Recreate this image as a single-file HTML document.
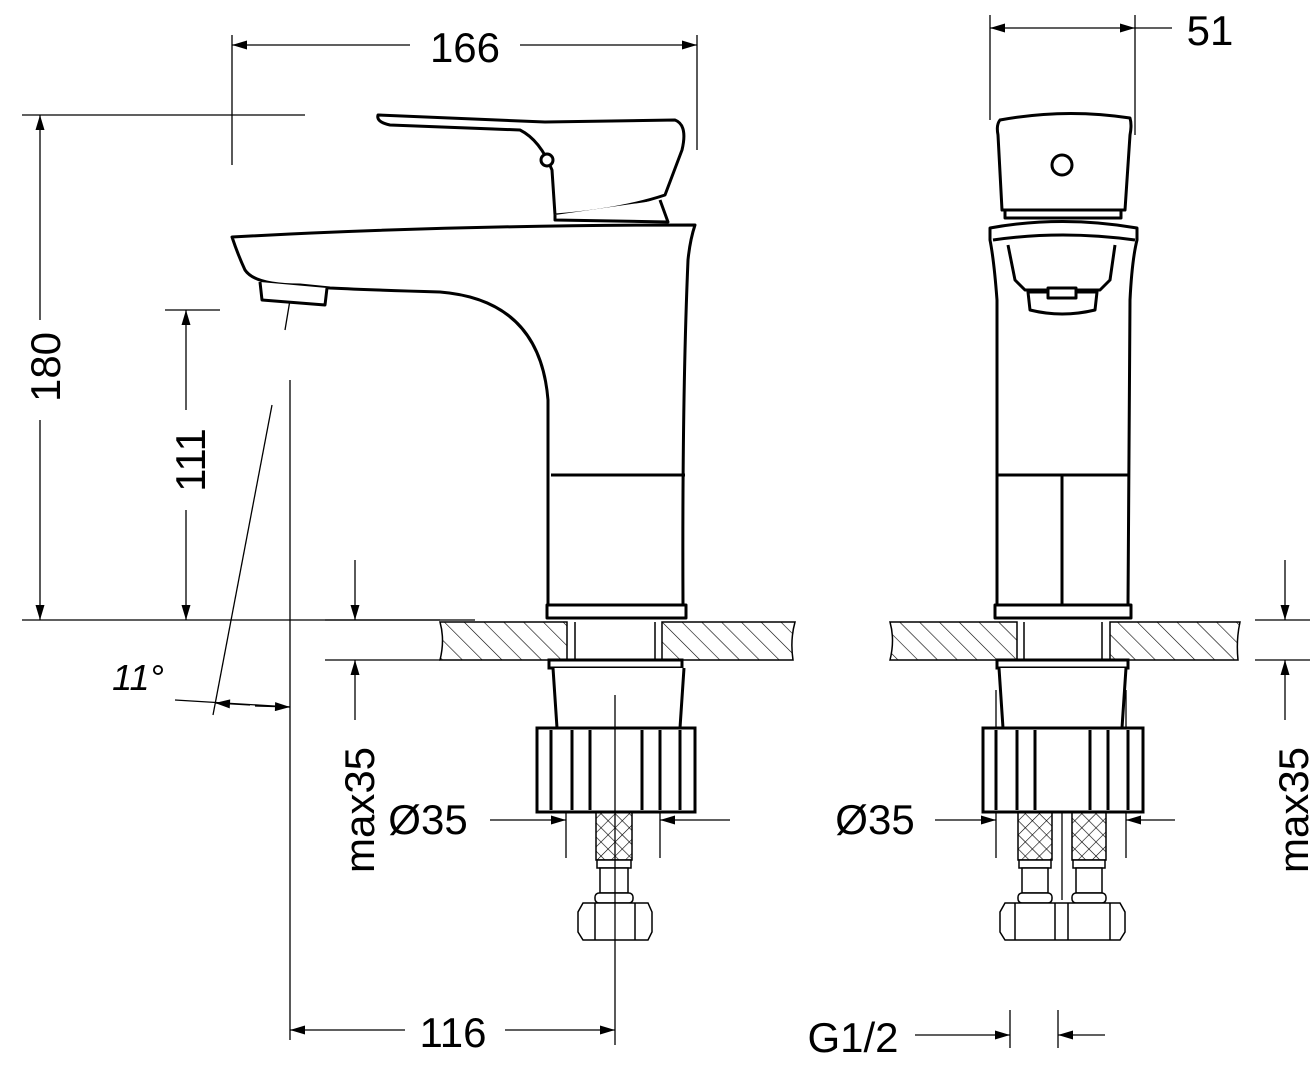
<!DOCTYPE html>
<html><head><meta charset="utf-8"><style>html,body{margin:0;padding:0;background:#fff}svg{display:block}</style></head>
<body>
<svg width="1314" height="1080" viewBox="0 0 1314 1080" xmlns="http://www.w3.org/2000/svg" font-family="Liberation Sans, sans-serif">
<defs>
<pattern id="h" width="14" height="14" patternUnits="userSpaceOnUse" patternTransform="rotate(-45)"><line x1="0" y1="0" x2="0" y2="14" stroke="#000" stroke-width="1.2"/></pattern>
<pattern id="x" width="10" height="10" patternUnits="userSpaceOnUse" patternTransform="rotate(45)"><path d="M0 0V10M0 0H10" stroke="#000" stroke-width="1.2"/></pattern>
<marker id="a" viewBox="0 0 10 6" refX="10" refY="3" markerWidth="28" markerHeight="9" markerUnits="userSpaceOnUse" orient="auto"><path d="M0 0L10 3L0 6Z"/></marker>
</defs>
<g stroke="#000" stroke-width="1.3" fill="none">
<line x1="232" y1="35" x2="232" y2="165"/><line x1="697" y1="35" x2="697" y2="150"/>
<line x1="410" y1="45" x2="232" y2="45" marker-end="url(#a)"/><line x1="520" y1="45" x2="697" y2="45" marker-end="url(#a)"/>
<line x1="22" y1="115" x2="305" y2="115"/><line x1="22" y1="620" x2="475" y2="620"/>
<line x1="40" y1="320" x2="40" y2="115" marker-end="url(#a)"/><line x1="40" y1="420" x2="40" y2="620" marker-end="url(#a)"/>
<line x1="165" y1="310" x2="220" y2="310"/>
<line x1="186" y1="410" x2="186" y2="310" marker-end="url(#a)"/><line x1="186" y1="510" x2="186" y2="620" marker-end="url(#a)"/>
<line x1="290" y1="380" x2="290" y2="1040"/>
<line x1="272" y1="405" x2="213" y2="715"/><line x1="290" y1="300" x2="285" y2="330"/>
<line x1="175" y1="700" x2="290" y2="707"/>
<line x1="250" y1="705" x2="215" y2="703" marker-end="url(#a)"/><line x1="255" y1="706" x2="290" y2="707" marker-end="url(#a)"/>
<line x1="405" y1="1030" x2="290" y2="1030" marker-end="url(#a)"/><line x1="505" y1="1030" x2="615" y2="1030" marker-end="url(#a)"/>
<line x1="325" y1="660" x2="440" y2="660"/><line x1="325" y1="620" x2="440" y2="620"/>
<line x1="355" y1="560" x2="355" y2="620" marker-end="url(#a)"/><line x1="355" y1="720" x2="355" y2="660" marker-end="url(#a)"/>
<line x1="490" y1="820" x2="566" y2="820" marker-end="url(#a)"/><line x1="730" y1="820" x2="660" y2="820" marker-end="url(#a)"/>
<line x1="566" y1="690" x2="566" y2="858"/><line x1="660" y1="690" x2="660" y2="858"/>
</g>
<g stroke="#000" stroke-width="3" fill="#fff" stroke-linejoin="round">
<path d="M378 115 L545 122 L675 120 Q688 125 682 150 L665 195 Q620 210 555 215 L552 170 Q540 140 520 130 L390 125 Q376 122 378 115Z"/>
<path d="M555 215 L555 220 L668 222 L660 200"/>
<path d="M232 237 Q450 225 695 225 Q690 240 688 260 Q682 400 683 605 L548 605 L548 400 Q540 300 440 292 Q370 290 330 288 L300 285 Q255 285 245 270 Q238 255 232 237Z"/>
<path d="M260 282 L262 300 L325 305 L327 288"/>
<line x1="551" y1="475" x2="685" y2="475"/>
<rect x="547" y="605" width="139" height="13"/>
</g>
<circle cx="547" cy="160" r="6" stroke="#000" stroke-width="3" fill="#fff"/>
<g stroke="#000" stroke-width="1.5">
<path d="M440 622 H567 V660 H440 Q445 640 440 622Z" fill="url(#h)"/>
<path d="M662 622 H795 Q790 640 793 660 H662Z" fill="url(#h)"/>
<line x1="575" y1="622" x2="575" y2="660"/><line x1="655" y1="622" x2="655" y2="660"/>
</g>
<g stroke="#000" stroke-width="3" fill="#fff">
<rect x="549" y="660" width="133" height="8"/>
<path d="M553 668 L557 728 L680 728 L684 668"/>
<rect x="537" y="728" width="158" height="84"/>
<path d="M551 730V810M572 730V810M590 730V810M642 730V810M660 730V810M680 730V810" fill="none"/>
</g>
<rect x="596" y="812" width="36" height="48" fill="url(#x)" stroke="#000" stroke-width="1.5"/>
<g stroke="#000" stroke-width="1.5" fill="#fff">
<rect x="597" y="860" width="34" height="8"/><rect x="600" y="868" width="28" height="25"/>
<rect x="595" y="893" width="38" height="10" rx="4"/>
<path d="M583 903 H648 L652 912 V932 L648 940 H583 L578 932 V912Z"/>
<line x1="595" y1="903" x2="595" y2="940"/><line x1="635" y1="903" x2="635" y2="940"/>
</g>
<line x1="615" y1="695" x2="615" y2="1045" stroke="#000" stroke-width="1.3"/>

<g stroke="#000" stroke-width="1.3" fill="none">
<line x1="990" y1="15" x2="990" y2="120"/><line x1="1135" y1="15" x2="1135" y2="135"/>
<line x1="1135" y1="28" x2="1172" y2="28"/>
<line x1="1060" y1="28" x2="990" y2="28" marker-end="url(#a)"/><line x1="1060" y1="28" x2="1135" y2="28" marker-end="url(#a)"/>
<line x1="1255" y1="620" x2="1310" y2="620"/><line x1="1255" y1="660" x2="1310" y2="660"/>
<line x1="1285" y1="560" x2="1285" y2="620" marker-end="url(#a)"/><line x1="1285" y1="720" x2="1285" y2="660" marker-end="url(#a)"/>
<line x1="935" y1="820" x2="996" y2="820" marker-end="url(#a)"/><line x1="1175" y1="820" x2="1126" y2="820" marker-end="url(#a)"/>
<line x1="996" y1="690" x2="996" y2="858"/><line x1="1126" y1="690" x2="1126" y2="858"/>
<line x1="915" y1="1035" x2="1010" y2="1035" marker-end="url(#a)"/><line x1="1105" y1="1035" x2="1058" y2="1035" marker-end="url(#a)"/>
<line x1="1010" y1="1010" x2="1010" y2="1048"/><line x1="1058" y1="1010" x2="1058" y2="1048"/>
<line x1="1062" y1="695" x2="1062" y2="900"/>
</g>
<g stroke="#000" stroke-width="3" fill="#fff" stroke-linejoin="round">
<path d="M1000 120 Q1065 108 1130 118 Q1132 125 1130 135 L1125 210 L1002 210 L998 135 Q996 125 1000 120Z"/>
<rect x="1005" y="210" width="116" height="8"/>
<path d="M990 228 Q1062 215 1137 228 L1137 240 Q1132 260 1130 300 L1128 605 L997 605 L997 300 Q994 260 990 240Z"/>
<path d="M993 240 Q1062 230 1135 240" fill="none"/>
<path d="M1008 245 L1015 280 L1025 290 L1100 290 L1110 280 L1115 245" fill="none"/>
<path d="M1028 292 L1030 310 Q1062 318 1095 310 L1097 292Z"/>
<rect x="1048" y="288" width="28" height="10"/>
<line x1="998" y1="475" x2="1128" y2="475"/><line x1="1062" y1="475" x2="1062" y2="605"/>
<rect x="995" y="605" width="136" height="13"/>
</g>
<circle cx="1062" cy="165" r="10" stroke="#000" stroke-width="3" fill="#fff"/>
<g stroke="#000" stroke-width="1.5">
<path d="M890 622 H1017 V660 H890 Q895 640 890 622Z" fill="url(#h)"/>
<path d="M1110 622 H1240 Q1236 640 1238 660 H1110Z" fill="url(#h)"/>
<line x1="1024" y1="622" x2="1024" y2="660"/><line x1="1102" y1="622" x2="1102" y2="660"/>
</g>
<g stroke="#000" stroke-width="3" fill="#fff">
<rect x="997" y="660" width="131" height="8"/>
<path d="M999 668 L1003 728 L1122 728 L1126 668"/>
<rect x="983" y="728" width="160" height="84"/>
<path d="M996 730V810M1017 730V810M1035 730V810M1090 730V810M1108 730V810M1128 730V810" fill="none"/>
</g>
<g stroke="#000" stroke-width="1.5">
<rect x="1018" y="812" width="34" height="48" fill="url(#x)"/>
<rect x="1072" y="812" width="34" height="48" fill="url(#x)"/>
</g>
<g stroke="#000" stroke-width="1.5" fill="#fff">
<rect x="1019" y="860" width="32" height="8"/><rect x="1022" y="868" width="26" height="25"/><rect x="1018" y="893" width="34" height="10" rx="4"/>
<rect x="1073" y="860" width="32" height="8"/><rect x="1076" y="868" width="26" height="25"/><rect x="1072" y="893" width="34" height="10" rx="4"/>
<path d="M1005 903 H1120 L1125 912 V932 L1120 940 H1005 L1000 932 V912Z"/>
<path d="M1015 903V940M1055 903V940M1068 903V940M1110 903V940" fill="none"/>
</g>

<g font-size="42" fill="#000">
<text x="465" y="62" text-anchor="middle">166</text>
<text x="1210" y="45" text-anchor="middle">51</text>
<text x="453" y="1047" text-anchor="middle">116</text>
<text x="853" y="1052" text-anchor="middle">G1/2</text>
<text x="875" y="834" text-anchor="middle">Ø35</text>
<text x="428" y="834" text-anchor="middle">Ø35</text>
<text transform="translate(60,367) rotate(-90)" text-anchor="middle">180</text>
<text transform="translate(205,460) rotate(-90)" text-anchor="middle">111</text>
<text transform="translate(374,810) rotate(-90)" text-anchor="middle">max35</text>
<text transform="translate(1308,810) rotate(-90)" text-anchor="middle">max35</text>
<text x="138" y="690" font-size="36" font-style="italic" text-anchor="middle">11°</text>
</g>
</svg>
</body></html>
